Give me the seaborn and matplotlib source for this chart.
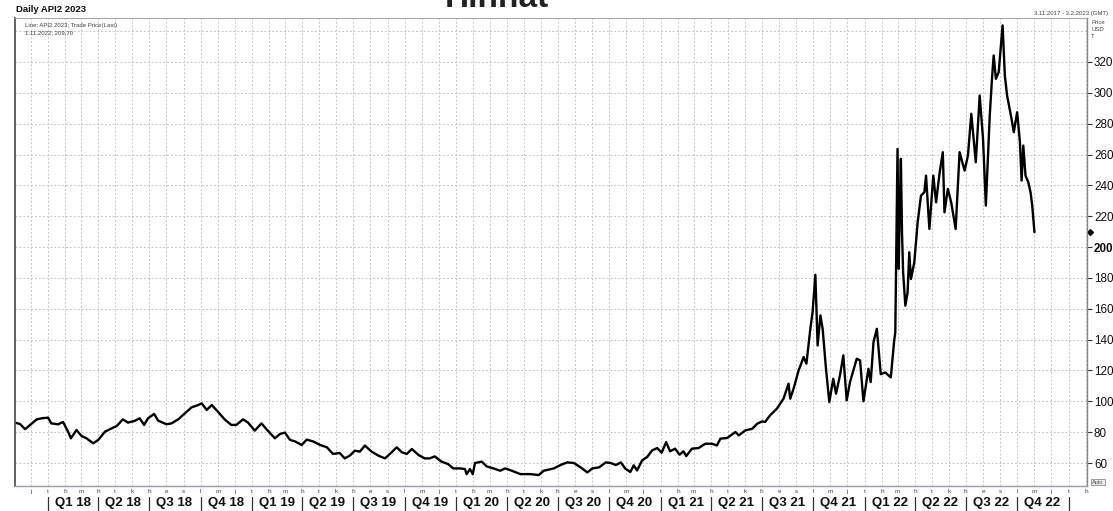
import matplotlib
matplotlib.use("Agg")
import matplotlib.pyplot as plt
import matplotlib.transforms as mtrans
import seaborn as sns
import pandas as pd

# ---- data ----
dates = [
    "2017-11-03", "2017-11-12", "2017-11-21", "2017-11-30", "2017-12-12", "2017-12-21",
    "2018-01-01", "2018-01-07", "2018-01-19", "2018-01-28", "2018-02-06", "2018-02-11",
    "2018-02-21", "2018-03-02", "2018-03-11", "2018-03-23", "2018-04-01", "2018-04-13",
    "2018-04-25", "2018-05-04", "2018-05-15", "2018-05-24", "2018-06-05", "2018-06-14",
    "2018-06-22", "2018-06-29", "2018-07-10", "2018-07-17", "2018-08-01", "2018-08-10",
    "2018-08-22", "2018-09-03", "2018-09-15", "2018-09-27", "2018-10-03", "2018-10-12",
    "2018-10-21", "2018-11-01", "2018-11-13", "2018-11-25", "2018-12-04", "2018-12-16",
    "2018-12-25", "2019-01-06", "2019-01-18", "2019-01-27", "2019-02-11", "2019-02-20",
    "2019-03-01", "2019-03-10", "2019-03-19", "2019-03-31", "2019-04-09", "2019-04-21",
    "2019-05-03", "2019-05-15", "2019-05-26", "2019-06-07", "2019-06-16", "2019-06-25",
    "2019-07-04", "2019-07-13", "2019-07-22", "2019-08-03", "2019-08-15", "2019-08-27",
    "2019-09-08", "2019-09-17", "2019-09-26", "2019-10-05", "2019-10-14", "2019-10-26",
    "2019-11-06", "2019-11-15", "2019-11-24", "2019-12-06", "2019-12-18", "2019-12-27",
    "2020-01-08", "2020-01-17", "2020-01-20", "2020-01-26", "2020-01-31", "2020-02-04",
    "2020-02-16", "2020-02-25", "2020-03-08", "2020-03-20", "2020-03-29", "2020-04-10",
    "2020-04-25", "2020-05-13", "2020-05-28", "2020-06-06", "2020-06-24", "2020-07-06",
    "2020-07-18", "2020-07-30", "2020-08-11", "2020-08-23", "2020-09-01", "2020-09-13",
    "2020-09-25", "2020-10-04", "2020-10-13", "2020-10-22", "2020-10-30", "2020-11-08",
    "2020-11-14", "2020-11-20", "2020-11-29", "2020-12-08", "2020-12-17", "2020-12-26",
    "2021-01-03", "2021-01-11", "2021-01-18", "2021-01-27", "2021-02-04", "2021-02-11",
    "2021-02-16", "2021-02-26", "2021-03-10", "2021-03-22", "2021-04-03", "2021-04-12",
    "2021-04-18", "2021-04-30", "2021-05-15", "2021-05-21", "2021-06-02", "2021-06-14",
    "2021-06-23", "2021-07-02", "2021-07-07", "2021-07-16", "2021-07-28", "2021-08-09",
    "2021-08-18", "2021-08-21", "2021-08-27", "2021-09-05", "2021-09-14", "2021-09-19",
    "2021-09-26", "2021-09-30", "2021-10-05", "2021-10-09", "2021-10-14", "2021-10-18",
    "2021-10-24", "2021-10-30", "2021-11-06", "2021-11-11", "2021-11-18", "2021-11-24",
    "2021-11-30", "2021-12-06", "2021-12-18", "2021-12-24", "2021-12-30", "2022-01-08",
    "2022-01-12", "2022-01-17", "2022-01-23", "2022-01-30", "2022-02-07", "2022-02-17",
    "2022-02-23", "2022-02-25", "2022-03-01", "2022-03-03", "2022-03-05", "2022-03-07",
    "2022-03-09", "2022-03-11", "2022-03-15", "2022-03-19", "2022-03-22", "2022-03-25",
    "2022-03-31", "2022-04-06", "2022-04-12", "2022-04-18", "2022-04-21", "2022-04-27",
    "2022-05-04", "2022-05-09", "2022-05-15", "2022-05-21", "2022-05-24", "2022-05-30",
    "2022-06-05", "2022-06-13", "2022-06-20", "2022-06-29", "2022-07-05", "2022-07-11",
    "2022-07-19", "2022-07-26", "2022-08-01", "2022-08-06", "2022-08-13", "2022-08-17",
    "2022-08-20", "2022-08-24", "2022-08-29", "2022-09-05", "2022-09-09", "2022-09-13",
    "2022-09-21", "2022-09-25", "2022-10-01", "2022-10-06", "2022-10-09", "2022-10-12",
    "2022-10-16", "2022-10-21", "2022-10-25", "2022-10-28", "2022-11-01",
]
prices = [
    86.2, 85.3, 81.9, 84.7, 88.3, 89.0,
    89.4, 85.7, 85.1, 86.6, 80.3, 76.0,
    81.4, 77.5, 76.0, 72.8, 75.0, 80.3,
    82.5, 84.0, 88.3, 86.2, 87.3, 89.0,
    84.7, 89.0, 91.8, 87.5, 85.1, 85.7,
    88.3, 92.2, 96.1, 97.6, 98.7, 94.4,
    97.6, 93.3, 88.3, 84.7, 84.7, 88.3,
    86.2, 81.0, 85.7, 81.9, 76.0, 78.8,
    79.7, 75.0, 74.0, 71.7, 75.2, 73.9,
    71.7, 70.2, 65.9, 66.5, 63.0, 64.8,
    68.0, 67.4, 71.3, 67.4, 64.8, 63.0,
    67.0, 70.2, 67.0, 65.9, 69.1, 65.2,
    63.0, 63.0, 64.3, 60.9, 59.3, 56.5,
    56.5, 56.1, 52.8, 56.1, 52.8, 60.0,
    60.9, 57.8, 56.5, 55.0, 56.5, 55.0,
    52.8, 52.8, 52.2, 55.0, 56.5, 58.7,
    60.4, 60.0, 57.2, 53.9, 56.5, 57.2,
    60.4, 60.0, 58.7, 60.4, 56.3, 54.2,
    58.5, 55.2, 61.7, 63.9, 68.2, 69.7,
    66.7, 73.6, 67.6, 69.3, 65.4, 67.6,
    64.5, 69.3, 69.7, 72.5, 72.5, 71.4,
    75.8, 76.2, 80.1, 77.9, 81.2, 82.2,
    85.5, 87.0, 86.6, 90.9, 95.2, 101.7,
    111.4, 101.7, 108.2, 120.0, 128.7, 124.4,
    147.0, 157.8, 182.0, 136.2, 155.7, 147.0,
    121.1, 99.5, 114.6, 104.9, 116.8, 129.8,
    100.6, 112.5, 127.6, 126.5, 100.0, 121.1,
    112.5, 138.4, 147.0, 117.6, 118.7, 115.5,
    139.3, 144.7, 263.6, 185.8, 224.7, 257.2,
    209.6, 183.6, 162.0, 170.6, 196.6, 179.3,
    190.1, 216.0, 233.4, 235.5, 246.3, 211.7,
    246.3, 229.0, 247.4, 261.5, 222.5, 237.7,
    229.0, 211.7, 261.5, 249.6, 259.3, 286.4,
    255.0, 298.3, 270.1, 226.9, 285.3, 309.1,
    324.2, 309.1, 313.4, 343.7, 311.2, 298.3,
    283.1, 274.5, 287.4, 268.0, 243.1, 265.8,
    246.3, 242.0, 235.5, 226.9, 209.7,
]
y_ticks = [60, 80, 100, 120, 140, 160, 180, 200, 220, 240, 260, 280, 300, 320]
month_letters = ["t", "h", "m", "h", "t", "k", "h", "e", "s", "l", "m", "j"]
quarter_labels = ["Q1 18", "Q2 18", "Q3 18", "Q4 18", "Q1 19", "Q2 19", "Q3 19", "Q4 19",
                  "Q1 20", "Q2 20", "Q3 20", "Q4 20", "Q1 21", "Q2 21", "Q3 21", "Q4 21",
                  "Q1 22", "Q2 22", "Q3 22", "Q4 22"]
quarter_starts = pd.date_range("2018-01-01", "2022-10-01", freq="QS")
last_date, last_value = "1.11.2022", 209.70

# ---- figure ----
sns.set_theme(style="white")
plt.rcParams['font.family'] = ['Liberation Sans', 'DejaVu Sans']

W, H = 1113, 511
fig = plt.figure(figsize=(W / 100, H / 100), dpi=100)
fig.patch.set_facecolor("white")
ax = fig.add_axes([15 / W, 1 - 486 / H, (1087 - 15) / W, (486 - 18) / H])

df = pd.DataFrame({"date": pd.to_datetime(dates), "price": prices})
sns.lineplot(data=df, x="date", y="price", ax=ax, color="black", linewidth=1.7)

ax.set_xlim(pd.Timestamp("2017-11-03"), pd.Timestamp("2023-02-03"))
ax.set_ylim(45.1, 348.5)
ax.set_xlabel("")
ax.set_ylabel("")

# grid
gcol = "#c4c4d0"
months = pd.date_range("2017-12-01", "2023-02-01", freq="MS")
ax.set_xticks(months)
ax.set_xticklabels([month_letters[m.month - 1] for m in months], fontsize=4.6, color="#444444")
ax.tick_params(axis="x", length=0, pad=2.0)
ax.yaxis.tick_right()
ax.set_yticks(y_ticks)
ax.set_yticklabels([str(v) for v in y_ticks], fontsize=8.4, color="#111111")
ax.tick_params(axis="y", right=True, length=3.5, width=0.8, color="#333333", pad=1.5)
for lbl in ax.get_yticklabels():
    if lbl.get_text() == "200":
        lbl.set_fontweight("bold")
ax.grid(True, color=gcol, linestyle=(0, (2, 2)), linewidth=0.7)
ax.axhline(340, color=gcol, linestyle=(0, (2, 2)), linewidth=0.7, zorder=0)
ax.set_axisbelow(True)

for side, col, lw in [("left", "#555555", 1.3), ("bottom", "#9a9ab0", 1.0),
                      ("right", "#888888", 1.0), ("top", "#aaaaaa", 0.8)]:
    ax.spines[side].set_visible(True)
    ax.spines[side].set_color(col)
    ax.spines[side].set_linewidth(lw)

# quarter row
tb = mtrans.blended_transform_factory(ax.transData, ax.transAxes)
ax_h = 486 - 18
for qs, lab in zip(quarter_starts, quarter_labels):
    center = qs + pd.Timedelta(days=45)
    ax.text(center, -(503 - 486) / ax_h, lab, transform=tb, ha="center", va="center",
            fontsize=9.5, fontweight="bold", color="#111111", clip_on=False)
for qs in list(quarter_starts) + [pd.Timestamp("2023-01-01")]:
    ax.axvline(qs, ymin=-(511 - 486) / ax_h, ymax=-(497 - 486) / ax_h, color="#333333",
               linewidth=0.9, clip_on=False)

# last value marker on the price axis
ax.plot([1.003], [last_value], marker="D", markersize=3, color="black",
        transform=mtrans.blended_transform_factory(ax.transAxes, ax.transData), clip_on=False)

# texts
fig.text(16 / W, 1 - 10 / H, "Daily API2 2023", fontsize=6.8, fontweight="bold",
         ha="left", va="center", color="#111111")
fig.text(497 / W, 1 + 2 / H, "Hinnat", fontsize=24, fontweight="bold",
         ha="center", va="center", color="#222222")
fig.text(25 / W, 1 - 25 / H, "Line; API2 2023; Trade Price(Last)", fontsize=4.3,
         ha="left", va="center", color="#444444")
fig.text(25 / W, 1 - 33 / H, f"{last_date}; {last_value:.2f}".replace(".70", ",70"),
         fontsize=4.3, ha="left", va="center", color="#444444")
fig.text(1108 / W, 1 - 13 / H, "3.11.2017 - 3.2.2023 (GMT)", fontsize=4.3,
         ha="right", va="center", color="#444444")
for i, t in enumerate(["Price", "USD", "T"]):
    fig.text(1091 / W, 1 - (22 + 7.5 * i) / H, t, fontsize=4.3, ha="left", va="center",
             color="#444444")
fig.text(1098 / W, 1 - 482 / H, "Auto", fontsize=4.0, ha="center", va="center",
         color="#444444", bbox=dict(boxstyle="square,pad=0.15", fc="#eeeeee", ec="#777777", lw=0.5))

fig.savefig("out.png", dpi=100, facecolor="white")
